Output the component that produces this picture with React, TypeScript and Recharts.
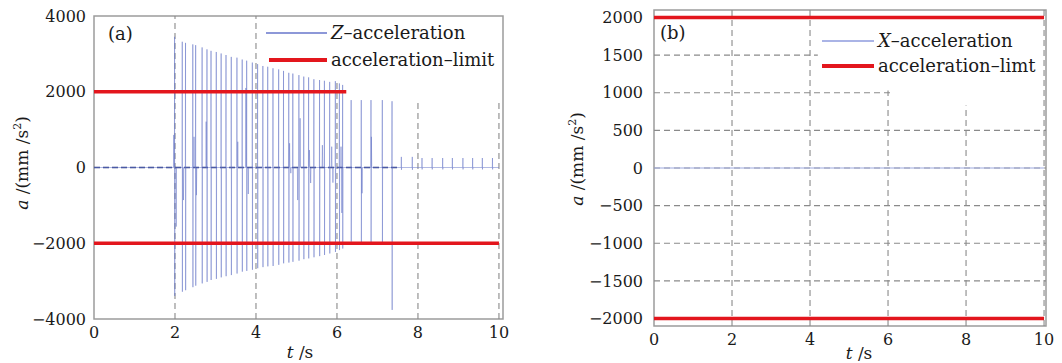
import React from 'react';
import { LineChart, Line, XAxis, YAxis, ReferenceLine, ReferenceArea } from 'recharts';

const FONT = '"DejaVu Serif", serif';

// ---------- Panel (a): Z-acceleration ----------
const zSpikeT = [
  1.99, 2.18, 2.26, 2.44, 2.51, 2.67, 2.79, 2.89, 3.02, 3.14, 3.26, 3.39, 3.53, 3.66, 3.77, 3.91,
  4.04, 4.17, 4.29, 4.42, 4.56, 4.68, 4.81, 4.91, 5.06, 5.18, 5.3, 5.43, 5.57, 5.69, 5.82, 5.96,
  6.06, 6.14, 6.35, 6.6, 6.84, 7.12, 7.36, 7.59, 7.86, 8.1, 8.35, 8.61, 8.85, 9.11, 9.35, 9.59, 9.84,
];
const zSpikeHi = [
  3450, 3320, 3290, 3250, 3230, 3170, 3120, 3080, 3050, 3010, 2970, 2920, 2900, 2850, 2820, 2770,
  2730, 2680, 2660, 2620, 2590, 2550, 2500, 2480, 2440, 2400, 2380, 2330, 2310, 2290, 2260, 2280,
  2220, 2180, 1780, 1780, 1780, 1780, 1750, 280, 280, 250, 250, 250, 250, 250, 250, 250, 250,
];
const zSpikeLo = [
  -3390, -3280, -3240, -3160, -3120, -3060, -3020, -2970, -2940, -2900, -2870, -2840, -2800, -2750, -2730, -2700,
  -2660, -2630, -2610, -2600, -2570, -2530, -2510, -2490, -2460, -2420, -2400, -2370, -2340, -2310, -2270, -2230,
  -2180, -2140, -1960, -1970, -1980, -1980, -3760, -60, -60, -50, -50, -50, -50, -50, -50, -50, -50,
];
const zEchoT = [1.97, 2.03, 2.21, 2.47, 2.53, 2.77, 3.55, 3.75, 3.81, 4.83, 4.86, 5.03, 5.09, 5.32, 5.35, 5.64, 5.87, 5.9, 6.1, 6.12, 6.62, 6.85];
const zEchoV = [860, -1560, -860, 810, -730, 1210, 680, 2100, -700, 640, -150, -860, 1300, 460, -410, 590, 550, -400, 550, -1200, -680, 810];

const limitAUpperT = [0, 6.23];
const limitALowerT = [0, 10];
const limitValue = 2000;
const aXTicks = [0, 2, 4, 6, 8, 10];
const aYTicks = [-4000, -2000, 0, 2000, 4000];
const aGridX = [2, 4, 6, 8, 10];
const aGridTop = [4000, 4000, 2300, 1800, 1800];
const aBaselineEnd = 7.5;

// ---------- Panel (b): X-acceleration ----------
const xAccT = [0, 10];
const xAccV = [0, 0];
const limitBT = [0, 10];
const bXTicks = [0, 2, 4, 6, 8, 10];
const bYTicks = [-2000, -1500, -1000, -500, 0, 500, 1000, 1500, 2000];
const bGridY = [1500, 1000, 500, 0, -500, -1000, -1500];
const bGridYEnd = [4.2, 6.1, 10.05, 10.05, 10.05, 10.05, 10.05];
const bGridX = [2, 4, 6, 8, 10];
const bGridXTop = [2100, 2100, 1030, 830, 2100];

type P = { t: number; z: number };
const zPoints: P[] = [{ t: 0, z: 0 }, { t: 10, z: 0 }];
zSpikeT.forEach((t, i) => {
  zPoints.push({ t: t - 0.004, z: 0 }, { t, z: zSpikeHi[i] }, { t: t + 0.003, z: zSpikeLo[i] }, { t: t + 0.007, z: 0 });
});
zEchoT.forEach((t, i) => {
  zPoints.push({ t: t - 0.008, z: 0 }, { t, z: zEchoV[i] }, { t: t + 0.008, z: 0 });
});
zPoints.sort((a, b) => a.t - b.t);

const aUpper = limitAUpperT.map((t) => ({ t, v: limitValue }));
const aLower = limitALowerT.map((t) => ({ t, v: -limitValue }));
const xData = xAccT.map((t, i) => ({ t, x: xAccV[i] }));
const bUpper = limitBT.map((t) => ({ t, v: limitValue }));
const bLower = limitBT.map((t) => ({ t, v: -limitValue }));

const BLUE = '#6676c8';
const RED = '#e3161d';
const GRID = '#8a8a8a';
const FRAME = '#9c9c9c';
const TEXT = '#1a1a1a';

const fmt = (v: number) => (v < 0 ? '\u2212' + Math.abs(v) : String(v));
const tickStyle = { fill: TEXT, fontSize: 16, fontFamily: FONT };

const abs = (left: number, top: number, extra: React.CSSProperties = {}): React.CSSProperties => ({
  position: 'absolute',
  left,
  top,
  ...extra,
});

function LegendRow({ x, y, lineW, color, thick, children }: { x: number; y: number; lineW: number; color: string; thick: number; children: React.ReactNode }) {
  return (
    <>
      <div style={abs(x, y - thick / 2, { width: lineW, height: thick, background: color })} />
      <div style={abs(x + lineW + 4, y - 11, { lineHeight: '22px', fontSize: 18, whiteSpace: 'nowrap', color: TEXT })}>{children}</div>
    </>
  );
}

function YTitle({ cx, cy }: { cx: number; cy: number }) {
  return (
    <div
      style={abs(cx, cy, {
        transform: 'translate(-50%, -50%) rotate(-90deg)',
        fontSize: 17,
        whiteSpace: 'nowrap',
        color: TEXT,
        lineHeight: '20px',
      })}
    >
      <i>a</i> /(mm /s<sup style={{ fontSize: 11, verticalAlign: 'top', lineHeight: '12px' }}>2</sup>)
    </div>
  );
}

function XTitle({ cx, cy }: { cx: number; cy: number }) {
  return (
    <div style={abs(cx, cy, { transform: 'translate(-50%, -50%)', fontSize: 17, whiteSpace: 'nowrap', color: TEXT, lineHeight: '16px' })}>
      <i>t</i> /s
    </div>
  );
}

export default function App() {
  return (
    <div style={{ position: 'absolute', left: 0, top: 0, width: 1062, height: 363, background: '#fff', fontFamily: FONT, overflow: 'hidden' }}>
      {/* Panel (a) */}
      <div style={abs(0, 0)}>
        <LineChart width={530} height={363} margin={{ top: 16, right: 27, bottom: 14, left: 34 }}>
          <XAxis
            dataKey="t"
            type="number"
            domain={[0, 10.1]}
            ticks={aXTicks}
            allowDataOverflow
            axisLine={false}
            tickLine={false}
            tickSize={0}
            tickMargin={8}
            tick={tickStyle}
            height={30}
          />
          <YAxis
            type="number"
            domain={[-4000, 4000]}
            ticks={aYTicks}
            allowDataOverflow
            axisLine={false}
            tickLine={false}
            tickSize={0}
            tickMargin={8}
            tick={tickStyle}
            tickFormatter={fmt}
            width={60}
          />
          {aGridX.map((x, i) => (
            <ReferenceLine key={'ag' + i} segment={[{ x, y: -4000 }, { x, y: aGridTop[i] }]} stroke={GRID} strokeDasharray="6 4" strokeWidth={1.1} />
          ))}
          <ReferenceLine segment={[{ x: 0, y: 0 }, { x: aBaselineEnd, y: 0 }]} stroke="#2e3c82" strokeDasharray="6 3" strokeWidth={1.3} />
          <Line data={zPoints} dataKey="z" type="linear" dot={false} stroke={BLUE} strokeOpacity={0.5} strokeWidth={1} isAnimationActive={false} />
          <Line data={aUpper} dataKey="v" type="linear" dot={false} stroke={RED} strokeWidth={3.5} isAnimationActive={false} />
          <Line data={aLower} dataKey="v" type="linear" dot={false} stroke={RED} strokeWidth={3.5} isAnimationActive={false} />
          <ReferenceArea x1={0} x2={10.1} y1={-4000} y2={4000} fill="none" stroke={FRAME} strokeWidth={1.5} ifOverflow="visible" />
        </LineChart>
      </div>

      {/* Panel (b) */}
      <div style={abs(530, 0)}>
        <LineChart width={532} height={363} margin={{ top: 10, right: 16, bottom: 7, left: 64 }}>
          <XAxis
            dataKey="t"
            type="number"
            domain={[0, 10.05]}
            ticks={bXTicks}
            allowDataOverflow
            axisLine={false}
            tickLine={false}
            tickSize={0}
            tickMargin={8}
            tick={tickStyle}
            height={30}
          />
          <YAxis
            type="number"
            domain={[-2100, 2100]}
            ticks={bYTicks}
            allowDataOverflow
            axisLine={false}
            tickLine={false}
            tickSize={0}
            tickMargin={11}
            tick={tickStyle}
            tickFormatter={fmt}
            width={60}
          />
          {bGridY.map((y, i) => (
            <ReferenceLine key={'bgy' + i} segment={[{ x: 0, y }, { x: bGridYEnd[i], y }]} stroke={GRID} strokeDasharray="6 4" strokeWidth={1.1} />
          ))}
          {bGridX.map((x, i) => (
            <ReferenceLine key={'bgx' + i} segment={[{ x, y: -2100 }, { x, y: bGridXTop[i] }]} stroke={GRID} strokeDasharray="6 4" strokeWidth={1.1} />
          ))}
          <Line data={xData} dataKey="x" type="linear" dot={false} stroke="#9ea9e0" strokeWidth={1.2} isAnimationActive={false} />
          <Line data={bUpper} dataKey="v" type="linear" dot={false} stroke={RED} strokeWidth={3.5} isAnimationActive={false} />
          <Line data={bLower} dataKey="v" type="linear" dot={false} stroke={RED} strokeWidth={3.5} isAnimationActive={false} />
          <ReferenceArea x1={0} x2={10.05} y1={-2100} y2={2100} fill="none" stroke={FRAME} strokeWidth={1.5} ifOverflow="visible" />
        </LineChart>
      </div>

      {/* Annotations and legends */}
      <div style={abs(108, 23, { fontSize: 18, lineHeight: '22px', color: TEXT })}>(a)</div>
      <LegendRow x={266} y={33} lineW={61} color="#8d98d8" thick={1.2}>
        <i>Z</i>{'\u2013'}acceleration
      </LegendRow>
      <LegendRow x={269} y={60} lineW={58} color={RED} thick={3.5}>
        acceleration{'\u2013'}limit
      </LegendRow>

      <div style={abs(660, 22, { fontSize: 18, lineHeight: '22px', color: TEXT })}>(b)</div>
      <LegendRow x={822} y={41} lineW={52} color="#aab4e6" thick={1.2}>
        <i>X</i>{'\u2013'}acceleration
      </LegendRow>
      <LegendRow x={822} y={66} lineW={52} color={RED} thick={3.5}>
        acceleration{'\u2013'}limt
      </LegendRow>

      <YTitle cx={22} cy={163} />
      <YTitle cx={577} cy={159} />
      <XTitle cx={300} cy={352} />
      <XTitle cx={859} cy={353} />
    </div>
  );
}
